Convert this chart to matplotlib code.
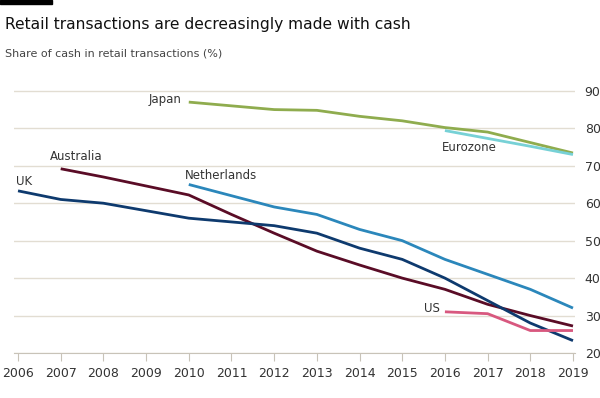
import matplotlib.pyplot as plt

# Share of cash in retail transactions (%)
years_uk = list(range(2006, 2020))
uk = [63.3, 61, 60, 58, 56, 55, 54, 52, 48, 45, 40, 34, 28, 23.3]

years_au = list(range(2007, 2020))
australia = [69.2, 67, 64.6, 62.2, 57, 52, 47.2, 43.5, 40, 37, 33, 30, 27.2]

years_nl = list(range(2010, 2020))
netherlands = [65, 62, 59, 57, 53, 50, 45, 41, 37, 32]

years_jp = list(range(2010, 2020))
japan = [87, 86, 85, 84.8, 83.2, 82, 80.2, 79, 76.2, 73.4]

years_ez = [2016, 2017, 2018, 2019]
eurozone = [79.4, 77.3, 75.2, 73]

years_us = [2016, 2017, 2018, 2019]
us = [31, 30.5, 26, 26]

series = [
    ("Japan", years_jp, japan, "#8fac4e"),
    ("Eurozone", years_ez, eurozone, "#77d1d6"),
    ("Netherlands", years_nl, netherlands, "#2b87bb"),
    ("Australia", years_au, australia, "#5a0c26"),
    ("UK", years_uk, uk, "#0e3a6e"),
    ("US", years_us, us, "#d8587f"),
]

fig = plt.figure(figsize=(6, 3.98), dpi=100)
ax = fig.add_axes([14 / 600, 1 - 353 / 398, 561 / 600, 270 / 398])

for name, xs, ys, col in series:
    ax.plot(xs, ys, color=col, lw=2, solid_capstyle="butt", zorder=3)

ax.set_xlim(2005.906, 2019.047)
ax.set_ylim(20, 92.1)
ax.set_xticks(range(2006, 2020))
ax.set_yticks(range(20, 100, 10))
ax.yaxis.tick_right()
ax.grid(axis="y", color="#e2ddd2", lw=1)
ax.set_axisbelow(True)
for s in ["top", "left", "right"]:
    ax.spines[s].set_visible(False)
ax.spines["bottom"].set_color("#c8c3b8")
ax.tick_params(axis="x", length=6, color="#c8c3b8", labelsize=9,
               labelcolor="#333333", pad=4)
ax.tick_params(axis="y", length=0, labelsize=9, labelcolor="#333333", pad=7)

# series labels
lbl = dict(fontsize=8.5, color="#333333")
ax.text(2009.05, 87.6, "Japan", ha="left", va="center", **lbl)
ax.text(2006.75, 72.4, "Australia", ha="left", va="center", **lbl)
ax.text(2005.95, 65.7, "UK", ha="left", va="center", **lbl)
ax.text(2009.9, 67.3, "Netherlands", ha="left", va="center", **lbl)
ax.text(2015.93, 74.8, "Eurozone", ha="left", va="center", **lbl)
ax.text(2015.5, 32, "US", ha="left", va="center", **lbl)

fig.text(5 / 600, 1 - 24 / 398, "Retail transactions are decreasingly made with cash",
         fontsize=11.2, color="#111111", va="center")
fig.text(5 / 600, 1 - 53 / 398, "Share of cash in retail transactions (%)",
         fontsize=8, color="#444444", va="center")
fig.add_artist(plt.Rectangle((0, 1 - 4 / 398), 52 / 600, 4 / 398,
                             transform=fig.transFigure, color="black"))

fig.savefig("out.png", dpi=100)
